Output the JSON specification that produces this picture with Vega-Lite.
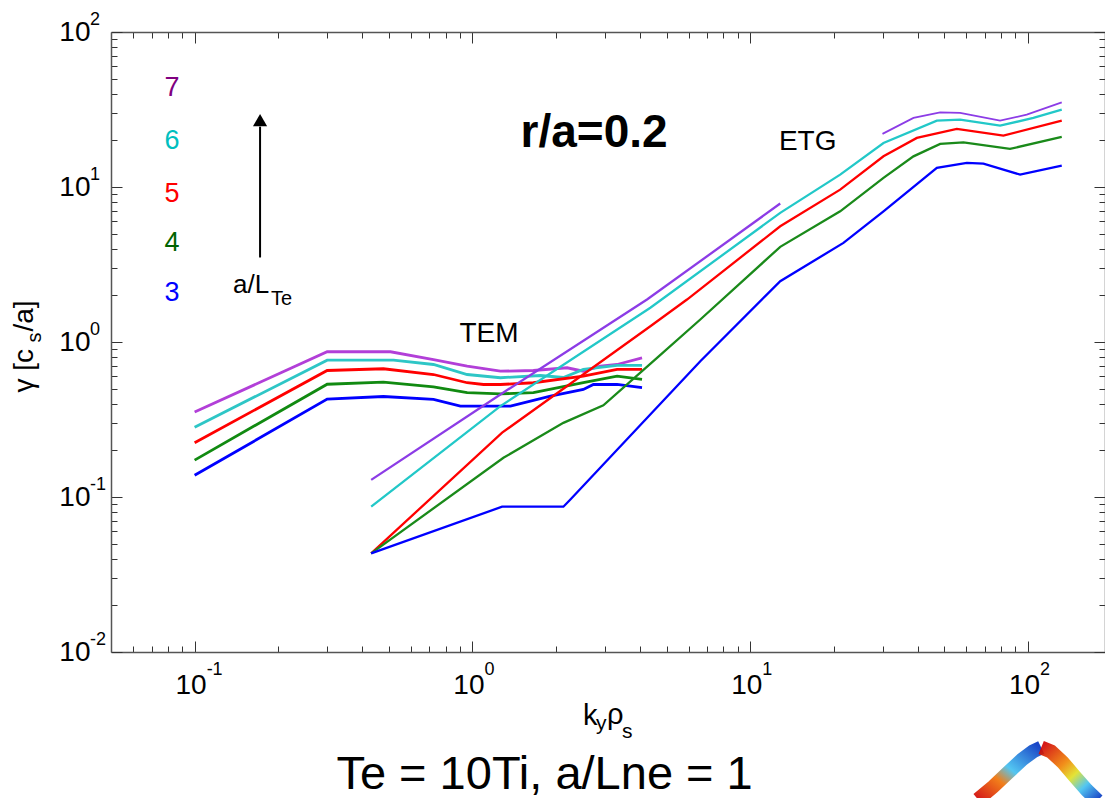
{
  "$schema": "https://vega.github.io/schema/vega-lite/v6.json",
  "width": 994,
  "height": 620,
  "autosize": {"type": "none"},
  "padding": {"left": 111, "top": 32, "right": 0, "bottom": 146},
  "background": "white",
  "config": {"view": {"stroke": null}, "font": "Liberation Sans"},
  "datasets": {
    "curves": [
      {"k": 0.1, "gamma": 0.353, "curve": "7-TEM", "branch": "TEM"},
      {"k": 0.3, "gamma": 0.865, "curve": "7-TEM", "branch": "TEM"},
      {"k": 0.507, "gamma": 0.865, "curve": "7-TEM", "branch": "TEM"},
      {"k": 0.724, "gamma": 0.771, "curve": "7-TEM", "branch": "TEM"},
      {"k": 0.957, "gamma": 0.698, "curve": "7-TEM", "branch": "TEM"},
      {"k": 1.261, "gamma": 0.648, "curve": "7-TEM", "branch": "TEM"},
      {"k": 1.657, "gamma": 0.655, "curve": "7-TEM", "branch": "TEM"},
      {"k": 2.191, "gamma": 0.682, "curve": "7-TEM", "branch": "TEM"},
      {"k": 2.507, "gamma": 0.648, "curve": "7-TEM", "branch": "TEM"},
      {"k": 2.887, "gamma": 0.698, "curve": "7-TEM", "branch": "TEM"},
      {"k": 3.316, "gamma": 0.716, "curve": "7-TEM", "branch": "TEM"},
      {"k": 4.078, "gamma": 0.791, "curve": "7-TEM", "branch": "TEM"},

      {"k": 0.1, "gamma": 0.282, "curve": "6-TEM", "branch": "TEM"},
      {"k": 0.3, "gamma": 0.763, "curve": "6-TEM", "branch": "TEM"},
      {"k": 0.52, "gamma": 0.763, "curve": "6-TEM", "branch": "TEM"},
      {"k": 0.724, "gamma": 0.716, "curve": "6-TEM", "branch": "TEM"},
      {"k": 0.957, "gamma": 0.617, "curve": "6-TEM", "branch": "TEM"},
      {"k": 1.261, "gamma": 0.588, "curve": "6-TEM", "branch": "TEM"},
      {"k": 1.756, "gamma": 0.608, "curve": "6-TEM", "branch": "TEM"},
      {"k": 2.125, "gamma": 0.59, "curve": "6-TEM", "branch": "TEM"},
      {"k": 2.507, "gamma": 0.665, "curve": "6-TEM", "branch": "TEM"},
      {"k": 3.316, "gamma": 0.706, "curve": "6-TEM", "branch": "TEM"},
      {"k": 4.078, "gamma": 0.706, "curve": "6-TEM", "branch": "TEM"},

      {"k": 0.1, "gamma": 0.224, "curve": "5-TEM", "branch": "TEM"},
      {"k": 0.3, "gamma": 0.655, "curve": "5-TEM", "branch": "TEM"},
      {"k": 0.478, "gamma": 0.672, "curve": "5-TEM", "branch": "TEM"},
      {"k": 0.724, "gamma": 0.617, "curve": "5-TEM", "branch": "TEM"},
      {"k": 0.957, "gamma": 0.546, "curve": "5-TEM", "branch": "TEM"},
      {"k": 1.096, "gamma": 0.532, "curve": "5-TEM", "branch": "TEM"},
      {"k": 1.261, "gamma": 0.532, "curve": "5-TEM", "branch": "TEM"},
      {"k": 1.657, "gamma": 0.546, "curve": "5-TEM", "branch": "TEM"},
      {"k": 2.507, "gamma": 0.602, "curve": "5-TEM", "branch": "TEM"},
      {"k": 3.316, "gamma": 0.665, "curve": "5-TEM", "branch": "TEM"},
      {"k": 4.078, "gamma": 0.665, "curve": "5-TEM", "branch": "TEM"},

      {"k": 0.1, "gamma": 0.173, "curve": "4-TEM", "branch": "TEM"},
      {"k": 0.3, "gamma": 0.534, "curve": "4-TEM", "branch": "TEM"},
      {"k": 0.478, "gamma": 0.551, "curve": "4-TEM", "branch": "TEM"},
      {"k": 0.724, "gamma": 0.514, "curve": "4-TEM", "branch": "TEM"},
      {"k": 0.957, "gamma": 0.471, "curve": "4-TEM", "branch": "TEM"},
      {"k": 1.261, "gamma": 0.463, "curve": "4-TEM", "branch": "TEM"},
      {"k": 1.657, "gamma": 0.471, "curve": "4-TEM", "branch": "TEM"},
      {"k": 2.507, "gamma": 0.546, "curve": "4-TEM", "branch": "TEM"},
      {"k": 3.316, "gamma": 0.602, "curve": "4-TEM", "branch": "TEM"},
      {"k": 4.078, "gamma": 0.573, "curve": "4-TEM", "branch": "TEM"},

      {"k": 0.1, "gamma": 0.138, "curve": "3-TEM", "branch": "TEM"},
      {"k": 0.3, "gamma": 0.428, "curve": "3-TEM", "branch": "TEM"},
      {"k": 0.478, "gamma": 0.445, "curve": "3-TEM", "branch": "TEM"},
      {"k": 0.724, "gamma": 0.426, "curve": "3-TEM", "branch": "TEM"},
      {"k": 0.905, "gamma": 0.386, "curve": "3-TEM", "branch": "TEM"},
      {"k": 1.37, "gamma": 0.386, "curve": "3-TEM", "branch": "TEM"},
      {"k": 1.909, "gamma": 0.447, "curve": "3-TEM", "branch": "TEM"},
      {"k": 2.507, "gamma": 0.494, "curve": "3-TEM", "branch": "TEM"},
      {"k": 2.725, "gamma": 0.532, "curve": "3-TEM", "branch": "TEM"},
      {"k": 3.316, "gamma": 0.532, "curve": "3-TEM", "branch": "TEM"},
      {"k": 4.078, "gamma": 0.507, "curve": "3-TEM", "branch": "TEM"},

      {"k": 0.432, "gamma": 0.129, "curve": "7-mid", "branch": "mid"},
      {"k": 1.261, "gamma": 0.459, "curve": "7-mid", "branch": "mid"},
      {"k": 4.25, "gamma": 1.879, "curve": "7-mid", "branch": "mid"},
      {"k": 12.82, "gamma": 7.82, "curve": "7-mid", "branch": "mid"},

      {"k": 29.92, "gamma": 22.0, "curve": "7-ETG", "branch": "ETG"},
      {"k": 38.68, "gamma": 27.9, "curve": "7-ETG", "branch": "ETG"},
      {"k": 48.26, "gamma": 30.31, "curve": "7-ETG", "branch": "ETG"},
      {"k": 56.94, "gamma": 30.04, "curve": "7-ETG", "branch": "ETG"},
      {"k": 79.3, "gamma": 26.8, "curve": "7-ETG", "branch": "ETG"},
      {"k": 98.9, "gamma": 29.3, "curve": "7-ETG", "branch": "ETG"},
      {"k": 132.2, "gamma": 35.17, "curve": "7-ETG", "branch": "ETG"},

      {"k": 0.432, "gamma": 0.0866, "curve": "6-mid", "branch": "mid"},
      {"k": 1.261, "gamma": 0.386, "curve": "6-mid", "branch": "mid"},
      {"k": 4.369, "gamma": 1.662, "curve": "6-mid", "branch": "mid"},
      {"k": 12.82, "gamma": 6.81, "curve": "6-mid", "branch": "mid"},
      {"k": 21.07, "gamma": 12.02, "curve": "6-mid", "branch": "mid"},
      {"k": 30.17, "gamma": 19.24, "curve": "6-mid", "branch": "mid"},
      {"k": 46.95, "gamma": 26.8, "curve": "6-mid", "branch": "mid"},
      {"k": 56.94, "gamma": 27.2, "curve": "6-mid", "branch": "mid"},
      {"k": 79.3, "gamma": 24.88, "curve": "6-mid", "branch": "mid"},
      {"k": 104.5, "gamma": 27.9, "curve": "6-mid", "branch": "mid"},
      {"k": 132.2, "gamma": 31.55, "curve": "6-mid", "branch": "mid"},

      {"k": 0.432, "gamma": 0.0433, "curve": "5-mid", "branch": "mid"},
      {"k": 1.279, "gamma": 0.26, "curve": "5-mid", "branch": "mid"},
      {"k": 4.369, "gamma": 1.264, "curve": "5-mid", "branch": "mid"},
      {"k": 5.92, "gamma": 1.879, "curve": "5-mid", "branch": "mid"},
      {"k": 12.82, "gamma": 5.58, "curve": "5-mid", "branch": "mid"},
      {"k": 21.07, "gamma": 9.62, "curve": "5-mid", "branch": "mid"},
      {"k": 30.17, "gamma": 15.77, "curve": "5-mid", "branch": "mid"},
      {"k": 39.78, "gamma": 20.73, "curve": "5-mid", "branch": "mid"},
      {"k": 55.4, "gamma": 23.69, "curve": "5-mid", "branch": "mid"},
      {"k": 81.5, "gamma": 21.45, "curve": "5-mid", "branch": "mid"},
      {"k": 132.2, "gamma": 26.8, "curve": "5-mid", "branch": "mid"},

      {"k": 0.432, "gamma": 0.0433, "curve": "4-mid", "branch": "mid"},
      {"k": 1.293, "gamma": 0.179, "curve": "4-mid", "branch": "mid"},
      {"k": 2.125, "gamma": 0.301, "curve": "4-mid", "branch": "mid"},
      {"k": 2.96, "gamma": 0.39, "curve": "4-mid", "branch": "mid"},
      {"k": 4.618, "gamma": 0.791, "curve": "4-mid", "branch": "mid"},
      {"k": 6.61, "gamma": 1.397, "curve": "4-mid", "branch": "mid"},
      {"k": 12.82, "gamma": 4.11, "curve": "4-mid", "branch": "mid"},
      {"k": 21.07, "gamma": 6.97, "curve": "4-mid", "branch": "mid"},
      {"k": 30.17, "gamma": 11.45, "curve": "4-mid", "branch": "mid"},
      {"k": 38.68, "gamma": 15.77, "curve": "4-mid", "branch": "mid"},
      {"k": 48.26, "gamma": 18.96, "curve": "4-mid", "branch": "mid"},
      {"k": 58.52, "gamma": 19.42, "curve": "4-mid", "branch": "mid"},
      {"k": 86.1, "gamma": 17.61, "curve": "4-mid", "branch": "mid"},
      {"k": 132.2, "gamma": 21.04, "curve": "4-mid", "branch": "mid"},

      {"k": 0.432, "gamma": 0.0433, "curve": "3-mid", "branch": "mid"},
      {"k": 1.279, "gamma": 0.0866, "curve": "3-mid", "branch": "mid"},
      {"k": 2.125, "gamma": 0.0866, "curve": "3-mid", "branch": "mid"},
      {"k": 2.252, "gamma": 0.0964, "curve": "3-mid", "branch": "mid"},
      {"k": 6.61, "gamma": 0.752, "curve": "3-mid", "branch": "mid"},
      {"k": 12.82, "gamma": 2.466, "curve": "3-mid", "branch": "mid"},
      {"k": 21.65, "gamma": 4.36, "curve": "3-mid", "branch": "mid"},
      {"k": 30.17, "gamma": 6.97, "curve": "3-mid", "branch": "mid"},
      {"k": 46.95, "gamma": 13.28, "curve": "3-mid", "branch": "mid"},
      {"k": 60.2, "gamma": 14.3, "curve": "3-mid", "branch": "mid"},
      {"k": 69.07, "gamma": 14.16, "curve": "3-mid", "branch": "mid"},
      {"k": 93.6, "gamma": 12.02, "curve": "3-mid", "branch": "mid"},
      {"k": 132.2, "gamma": 13.74, "curve": "3-mid", "branch": "mid"}
    ]
  },
  "layer": [
    {
      "data": {"name": "curves"},
      "mark": {"type": "line", "clip": true},
      "encoding": {
        "x": {
          "field": "k", "type": "quantitative",
          "scale": {"type": "log", "domain": [0.05, 189.2], "nice": false},
          "axis": {
            "orient": "bottom", "title": null, "grid": false,
            "values": [0.06, 0.07, 0.08, 0.09, 0.1, 0.2, 0.3, 0.4, 0.5, 0.6, 0.7, 0.8, 0.9, 1, 2, 3, 4, 5, 6, 7, 8, 9, 10, 20, 30, 40, 50, 60, 70, 80, 90, 100],
            "labelExpr": "datum.value == 0.1 || datum.value == 1 || datum.value == 10 || datum.value == 100 ? '10' : ''",
            "labelFontSize": 28, "labelColor": "#000000", "labelPadding": 30, "labelOffset": -4,
            "labelFlush": false, "labelOverlap": false, "labelBound": false,
            "tickSize": {"condition": {"test": "datum.value == 0.1 || datum.value == 1 || datum.value == 10 || datum.value == 100", "value": -11}, "value": -6},
            "tickColor": "#333333", "tickWidth": 1, "domainColor": "#555555", "domainWidth": 1.5
          }
        },
        "y": {
          "field": "gamma", "type": "quantitative",
          "scale": {"type": "log", "domain": [0.01, 100], "nice": false},
          "axis": {
            "orient": "left", "title": null, "grid": false,
            "values": [0.01, 0.02, 0.03, 0.04, 0.05, 0.06, 0.07, 0.08, 0.09, 0.1, 0.2, 0.3, 0.4, 0.5, 0.6, 0.7, 0.8, 0.9, 1, 2, 3, 4, 5, 6, 7, 8, 9, 10, 20, 30, 40, 50, 60, 70, 80, 90, 100],
            "labelExpr": "datum.value == 0.01 || datum.value == 0.1 || datum.value == 1 || datum.value == 10 || datum.value == 100 ? '10' : ''",
            "labelFontSize": 28, "labelColor": "#000000", "labelPadding": 32,
            "labelFlush": false, "labelOverlap": false, "labelBound": false,
            "tickSize": {"condition": {"test": "datum.value == 0.01 || datum.value == 0.1 || datum.value == 1 || datum.value == 10 || datum.value == 100", "value": -11}, "value": -6},
            "tickColor": "#333333", "tickWidth": 1, "domainColor": "#555555", "domainWidth": 1.5
          }
        },
        "color": {
          "field": "curve", "type": "nominal", "legend": null,
          "scale": {
            "domain": ["7-TEM", "7-mid", "7-ETG", "6-TEM", "6-mid", "5-TEM", "5-mid", "4-TEM", "4-mid", "3-TEM", "3-mid"],
            "range": ["#B23FD8", "#8C3CE6", "#8C3CE6", "#2EC6C6", "#22C8C8", "#FF0000", "#FF0000", "#118A11", "#1A8A1A", "#0000FF", "#0000FF"]
          }
        },
        "strokeWidth": {
          "field": "branch", "type": "ordinal", "legend": null,
          "scale": {"domain": ["TEM", "mid", "ETG"], "range": [2.8, 1.8, 2.4]}
        }
      }
    },
    {
      "data": {"values": [
        {"k": 0.0829, "gamma": 43.7, "label": "7"},
        {"k": 0.0829, "gamma": 19.9, "label": "6"},
        {"k": 0.0829, "gamma": 9.07, "label": "5"},
        {"k": 0.0829, "gamma": 4.38, "label": "4"},
        {"k": 0.0829, "gamma": 2.085, "label": "3"}
      ]},
      "mark": {"type": "text", "fontSize": 27, "align": "center", "baseline": "middle"},
      "encoding": {
        "x": {
          "field": "k", "type": "quantitative",
          "axis": {
            "orient": "top", "title": null, "grid": false, "labels": false,
            "values": [0.06, 0.07, 0.08, 0.09, 0.1, 0.2, 0.3, 0.4, 0.5, 0.6, 0.7, 0.8, 0.9, 1, 2, 3, 4, 5, 6, 7, 8, 9, 10, 20, 30, 40, 50, 60, 70, 80, 90, 100],
            "tickSize": {"condition": {"test": "datum.value == 0.1 || datum.value == 1 || datum.value == 10 || datum.value == 100", "value": -11}, "value": -6},
            "tickColor": "#333333", "tickWidth": 1, "domainColor": "#555555", "domainWidth": 1.5
          }
        },
        "y": {
          "field": "gamma", "type": "quantitative",
          "axis": {
            "orient": "right", "title": null, "grid": false, "labels": false,
            "values": [0.01, 0.02, 0.03, 0.04, 0.05, 0.06, 0.07, 0.08, 0.09, 0.1, 0.2, 0.3, 0.4, 0.5, 0.6, 0.7, 0.8, 0.9, 1, 2, 3, 4, 5, 6, 7, 8, 9, 10, 20, 30, 40, 50, 60, 70, 80, 90, 100],
            "tickSize": {"condition": {"test": "datum.value == 0.01 || datum.value == 0.1 || datum.value == 1 || datum.value == 10 || datum.value == 100", "value": -11}, "value": -6},
            "tickColor": "#333333", "tickWidth": 1, "domainColor": "#555555", "domainWidth": 1.5
          }
        },
        "text": {"field": "label"},
        "color": {
          "field": "label", "type": "nominal", "legend": null,
          "scale": {"domain": ["7", "6", "5", "4", "3"], "range": ["#800080", "#00BFBF", "#FF0000", "#006400", "#0000FF"]}
        }
      }
    },
    {
      "data": {"values": [
        {"k": 0.1, "gamma": 0.01, "e": "-1"},
        {"k": 1, "gamma": 0.01, "e": "0"},
        {"k": 10, "gamma": 0.01, "e": "1"},
        {"k": 100, "gamma": 0.01, "e": "2"}
      ]},
      "mark": {"type": "text", "fontSize": 18, "align": "left", "baseline": "alphabetic", "dx": 12, "dy": 23, "color": "#000000"},
      "encoding": {
        "x": {"field": "k", "type": "quantitative", "axis": null},
        "y": {"field": "gamma", "type": "quantitative", "axis": null},
        "text": {"field": "e"}
      }
    },
    {
      "data": {"values": [
        {"k": 0.05, "gamma": 0.01, "e": "-2"},
        {"k": 0.05, "gamma": 0.1, "e": "-1"},
        {"k": 0.05, "gamma": 1, "e": "0"},
        {"k": 0.05, "gamma": 10, "e": "1"},
        {"k": 0.05, "gamma": 100, "e": "2"}
      ]},
      "mark": {"type": "text", "fontSize": 18, "align": "left", "baseline": "alphabetic", "dx": -21, "dy": -7, "color": "#000000"},
      "encoding": {
        "x": {"field": "k", "type": "quantitative", "axis": null},
        "y": {"field": "gamma", "type": "quantitative", "axis": null},
        "text": {"field": "e"}
      }
    },
    {
      "data": {"values": [{"k": 0.172, "gamma": 3.51, "gamma2": 24.5}]},
      "mark": {"type": "rule", "color": "#000000", "strokeWidth": 2},
      "encoding": {
        "x": {"field": "k", "type": "quantitative", "axis": null},
        "y": {"field": "gamma", "type": "quantitative", "axis": null},
        "y2": {"field": "gamma2"}
      }
    },
    {
      "data": {"values": [{"k": 0.172, "gamma": 27.0}]},
      "mark": {"type": "point", "shape": "triangle-up", "filled": true, "color": "#000000", "size": 200, "opacity": 1},
      "encoding": {
        "x": {"field": "k", "type": "quantitative", "axis": null},
        "y": {"field": "gamma", "type": "quantitative", "axis": null}
      }
    },
    {
      "data": {"values": [{"k": 0.1374, "gamma": 2.085, "label": "a/L"}]},
      "mark": {"type": "text", "fontSize": 26, "align": "left", "baseline": "alphabetic", "color": "#000000"},
      "encoding": {
        "x": {"field": "k", "type": "quantitative", "axis": null},
        "y": {"field": "gamma", "type": "quantitative", "axis": null},
        "text": {"field": "label"}
      }
    },
    {
      "data": {"values": [{"k": 0.1884, "gamma": 1.745, "label": "Te"}]},
      "mark": {"type": "text", "fontSize": 20, "align": "left", "baseline": "alphabetic", "color": "#000000"},
      "encoding": {
        "x": {"field": "k", "type": "quantitative", "axis": null},
        "y": {"field": "gamma", "type": "quantitative", "axis": null},
        "text": {"field": "label"}
      }
    },
    {
      "data": {"values": [
        {"k": 1.147, "gamma": 1.134, "label": "TEM"},
        {"k": 16.1, "gamma": 19.42, "label": "ETG"}
      ]},
      "mark": {"type": "text", "fontSize": 28, "align": "center", "baseline": "middle", "color": "#000000"},
      "encoding": {
        "x": {"field": "k", "type": "quantitative", "axis": null},
        "y": {"field": "gamma", "type": "quantitative", "axis": null},
        "text": {"field": "label"}
      }
    },
    {
      "data": {"values": [{"k": 2.74, "gamma": 22.26, "label": "r/a=0.2"}]},
      "mark": {"type": "text", "fontSize": 46, "fontWeight": "bold", "align": "center", "baseline": "middle", "color": "#000000"},
      "encoding": {
        "x": {"field": "k", "type": "quantitative", "axis": null},
        "y": {"field": "gamma", "type": "quantitative", "axis": null},
        "text": {"field": "label"}
      }
    },
    {
      "data": {"values": [
        {"k": 2.501, "gamma": 0.003368, "label": "k"},
        {"k": 3.051, "gamma": 0.003419, "label": "ρ"}
      ]},
      "mark": {"type": "text", "fontSize": 29, "align": "left", "baseline": "alphabetic", "color": "#000000"},
      "encoding": {
        "x": {"field": "k", "type": "quantitative", "axis": null},
        "y": {"field": "gamma", "type": "quantitative", "axis": null},
        "text": {"field": "label"}
      }
    },
    {
      "data": {"values": [
        {"k": 2.786, "gamma": 0.003128, "label": "y"},
        {"k": 3.455, "gamma": 0.002777, "label": "s"}
      ]},
      "mark": {"type": "text", "fontSize": 21, "align": "left", "baseline": "alphabetic", "color": "#000000"},
      "encoding": {
        "x": {"field": "k", "type": "quantitative", "axis": null},
        "y": {"field": "gamma", "type": "quantitative", "axis": null},
        "text": {"field": "label"}
      }
    },
    {
      "data": {"values": [
        {"k": 0.0262, "gamma": 0.4726, "label": "γ [c"},
        {"k": 0.0262, "gamma": 1.169, "label": "/a]"}
      ]},
      "mark": {"type": "text", "fontSize": 28, "angle": 270, "align": "left", "baseline": "alphabetic", "color": "#000000"},
      "encoding": {
        "x": {"field": "k", "type": "quantitative", "axis": null},
        "y": {"field": "gamma", "type": "quantitative", "axis": null},
        "text": {"field": "label"}
      }
    },
    {
      "data": {"values": [{"k": 0.028, "gamma": 0.9926, "label": "s"}]},
      "mark": {"type": "text", "fontSize": 20, "angle": 270, "align": "left", "baseline": "alphabetic", "color": "#000000"},
      "encoding": {
        "x": {"field": "k", "type": "quantitative", "axis": null},
        "y": {"field": "gamma", "type": "quantitative", "axis": null},
        "text": {"field": "label"}
      }
    },
    {
      "data": {"values": [{"k": 1.818, "gamma": 0.001303, "label": "Te = 10Ti, a/Lne = 1"}]},
      "mark": {"type": "text", "fontSize": 47, "align": "center", "baseline": "alphabetic", "color": "#000000"},
      "encoding": {
        "x": {"field": "k", "type": "quantitative", "axis": null},
        "y": {"field": "gamma", "type": "quantitative", "axis": null},
        "text": {"field": "label"}
      }
    },
    {
      "data": {"values": [
        {"k": 66.0, "gamma": 0.00112},
        {"k": 74.8, "gamma": 0.00135},
        {"k": 84.5, "gamma": 0.00166},
        {"k": 95.3, "gamma": 0.00203},
        {"k": 104.0, "gamma": 0.00228},
        {"k": 111.5, "gamma": 0.00242}
      ]},
      "mark": {
        "type": "line", "strokeWidth": 14, "strokeCap": "butt", "opacity": 0.9,
        "color": {"gradient": "linear", "x1": 0, "y1": 1, "x2": 1, "y2": 0,
          "stops": [{"offset": 0, "color": "#d00000"}, {"offset": 0.35, "color": "#f07000"}, {"offset": 0.55, "color": "#40c0f0"}, {"offset": 1, "color": "#0030c0"}]}
      },
      "encoding": {
        "x": {"field": "k", "type": "quantitative", "axis": null},
        "y": {"field": "gamma", "type": "quantitative", "axis": null}
      }
    },
    {
      "data": {"values": [
        {"k": 111.5, "gamma": 0.00242},
        {"k": 121.0, "gamma": 0.00228},
        {"k": 133.0, "gamma": 0.00195},
        {"k": 147.0, "gamma": 0.00158},
        {"k": 163.0, "gamma": 0.00128},
        {"k": 178.0, "gamma": 0.00110}
      ]},
      "mark": {
        "type": "line", "strokeWidth": 14, "strokeCap": "butt", "opacity": 0.9,
        "color": {"gradient": "linear", "x1": 0, "y1": 0, "x2": 1, "y2": 1,
          "stops": [{"offset": 0, "color": "#d00000"}, {"offset": 0.35, "color": "#f08000"}, {"offset": 0.55, "color": "#e0e020"}, {"offset": 0.75, "color": "#40c0f0"}, {"offset": 1, "color": "#0030c0"}]}
      },
      "encoding": {
        "x": {"field": "k", "type": "quantitative", "axis": null},
        "y": {"field": "gamma", "type": "quantitative", "axis": null}
      }
    }
  ],
  "resolve": {"axis": {"x": "independent", "y": "independent"}, "scale": {"color": "independent"}}
}
